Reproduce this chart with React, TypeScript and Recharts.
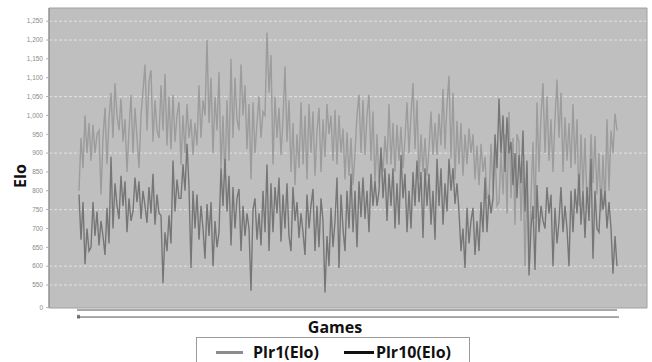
import React from 'react';
import { LineChart, Line, XAxis, YAxis, CartesianGrid, Legend, ReferenceLine, ReferenceArea } from 'recharts';

// Elo values, left to right (one value every ~2 px of the original)
const plr1Elo = [
  800, 940, 860, 1000, 900, 980, 880, 975, 900, 950, 960, 790, 940, 1020, 870, 990,
  1060, 940, 1085, 1000, 960, 1045, 930, 990, 850, 960, 1055, 900, 1020, 940, 860, 1000, 1065,
  1135, 960, 1090, 1120, 930, 1040, 960, 940, 1080, 960, 1110, 920, 1050, 910, 1055, 930, 1000,
  1035, 870, 1000, 900, 1030, 940, 990, 895, 980, 920, 1080, 940, 1040, 1000, 1200, 980,
  1100, 900, 1050, 960, 1115, 860, 1000, 830, 1040, 880, 1150, 940, 1100, 990, 960, 1135, 1000,
  1080, 910, 1030, 830, 1035, 900, 980, 1050, 940, 1010, 1000, 1220, 1060, 1160, 870, 1050, 940,
  1020, 895, 990, 1130, 930, 1040, 850, 980, 815, 950, 860, 1035, 870, 1000, 830, 1030, 900,
  1010, 840, 960, 1020, 850, 990, 890, 1030, 950, 1000, 880, 1015, 870, 1000, 900, 965, 830,
  955, 840, 940, 815, 900, 1000, 1055, 900, 1040, 895, 1000, 1055, 880, 1010, 815, 950, 820, 900,
  850, 945, 870, 1030, 870, 980, 850, 975, 880, 970, 860, 940, 1035, 900, 1000, 1085, 910, 1040,
  830, 950, 850, 940, 840, 910, 1010, 895, 980, 895, 1005, 920, 1070, 910, 1030, 1105, 885, 1060,
  830, 985, 870, 980, 840, 950, 870, 965, 900,
  950, 830, 920, 815, 925, 850, 890, 780, 780, 925, 800, 920, 760, 770, 900, 790, 950, 740,
  1010, 780, 940, 710, 950, 930, 720, 880, 600, 840, 620, 780, 930, 725, 1035, 850, 1000, 1085, 900,
  1050, 880, 990, 850, 990, 1095, 940, 1060, 850, 995, 880, 980, 860, 1030, 870, 990, 760, 950, 800,
  940, 770, 780, 950, 820, 945, 790, 900, 745, 895, 760, 990, 800, 960, 900, 1005, 960,
];

const plr10Elo = [
  790, 670, 770, 605, 700, 640, 650, 770, 680, 745, 655, 720, 680, 630, 755, 660,
  890, 700, 820, 760, 725, 840, 760, 825, 690, 780, 720, 745, 835, 770, 825, 725, 800, 760,
  715, 810, 740, 845, 710, 790, 740, 735, 555, 690, 640, 735, 660, 880, 745, 830, 780,
  780, 870, 800, 925, 810, 595, 800, 700, 790, 670, 760, 700, 620, 765, 680, 770, 600, 720, 650,
  690, 860, 760, 885, 745, 840, 655, 810, 700, 780, 805, 640, 760, 680, 740, 700, 535, 750,
  780, 670, 740, 655, 800, 690, 870, 640, 820, 690, 810, 740,
  835, 665, 790, 700, 820, 680, 640, 810, 720, 770, 675, 740, 690, 630, 790, 700, 760,
  805, 640, 760, 650, 780, 720, 530, 680, 600, 755, 650, 720, 835, 595, 790, 700,
  640, 800, 700, 845, 690, 800, 650, 825, 730, 835, 725, 800, 690, 845, 760, 825, 760, 800,
  915, 780, 860, 720, 845, 760, 860, 700, 820, 710, 895, 780, 845, 690, 800, 700, 850, 760,
  880, 770, 850, 675, 860, 760, 845, 710, 800, 670, 885, 760, 860, 710, 820, 745, 885, 800,
  860, 765, 820, 745, 640, 700, 595, 755, 660, 720,
  755, 630, 720, 640, 770, 690, 835, 690, 790, 740, 780, 950, 860, 1045, 900, 1000,
  850, 995, 900, 930, 815, 900, 780, 895, 820, 960, 745, 880, 575, 700, 760, 590,
  815, 690, 760, 720, 700, 810, 740, 790, 600, 755, 660, 720, 810, 690, 760, 700, 600, 800,
  690, 805, 740, 845, 710, 800, 675, 810, 720, 885, 620, 800, 700, 690, 805, 750,
  800, 700, 770, 700, 580, 680, 600,
];

const seriesNames = ['Plr1(Elo)', 'Plr10(Elo)'];
const yTickValues = [490, 550, 600, 650, 700, 750, 800, 850, 900, 950, 1000, 1050, 1100, 1150, 1200, 1250];
const yTickLabels = ['0', '550', '600', '650', '700', '750', '800', '850', '900', '950', '1,000', '1,050', '1,100', '1,150', '1,200', '1,250'];
const gridValues = [550, 600, 750, 900, 1050, 1200, 1250];

const data = plr1Elo.map((v, i) => ({ game: i, plr1: v, plr10: plr10Elo[i] }));
const lastGame = data.length - 1;

const lineColors = ['#9c9c9c', '#767676'];
const legendColors = ['#8c8c8c', '#111111'];

const renderLegend = (props: any) => {
  const payload = props.payload || [];
  return (
    <div
      style={{
        boxSizing: 'border-box',
        width: 274,
        height: 30,
        border: '1px solid #9a9a9a',
        background: '#fff',
        display: 'flex',
        alignItems: 'center',
        paddingLeft: 19,
        fontFamily: '"Open Sans", sans-serif',
        fontWeight: 700,
        fontSize: 16,
        color: '#111',
      }}
    >
      {payload.map((entry: any, i: number) => (
        <div key={i} style={{ display: 'flex', alignItems: 'center', marginLeft: i === 0 ? 0 : 25 }}>
          <span
            style={{
              display: 'inline-block',
              width: i === 0 ? 27 : 30,
              height: 3,
              background: legendColors[i],
              marginRight: i === 0 ? 10 : 2,
            }}
          />
          <span>{entry.value}</span>
        </div>
      ))}
    </div>
  );
};

export default function App() {
  return (
    <div style={{ position: 'absolute', left: 0, top: 0, background: '#fff' }}>
      <LineChart width={652} height={362} data={data} margin={{ top: 8, right: 5, bottom: 24, left: 0 }}>
        <CartesianGrid
          vertical={false}
          fill="#bfbfbf"
          stroke="#e2e2e2"
          strokeDasharray="3 2"
          horizontalValues={gridValues}
        />
        <XAxis
          type="number"
          dataKey="game"
          domain={[-15, lastGame + 15]}
          allowDataOverflow
          tick={false}
          tickLine={false}
          axisLine={false}
          height={30}
          label={{
            value: 'Games',
            position: 'insideBottom',
            offset: 5,
            dx: -13,
            style: { fontFamily: '"Open Sans", sans-serif', fontWeight: 700, fontSize: 16, fill: '#111' },
          }}
        />
        <YAxis
          type="number"
          domain={[489, 1285]}
          allowDataOverflow
          ticks={yTickValues}
          interval={0}
          width={49}
          tickSize={3}
          tickMargin={3}
          tickFormatter={(v: number) => yTickLabels[yTickValues.indexOf(v)]}
          tick={{ fontSize: 6.5, fill: '#8a8a8a', fontFamily: '"Liberation Sans", sans-serif' }}
          tickLine={{ stroke: '#b0b0b0' }}
          axisLine={{ stroke: '#8a8a8a' }}
          label={{
            value: 'Elo',
            angle: -90,
            position: 'center',
            dx: -4,
            dy: 18,
            style: { fontFamily: '"Open Sans", sans-serif', fontWeight: 700, fontSize: 16, fill: '#111' },
          }}
        />
        <ReferenceArea
          x1={-15}
          x2={lastGame + 15}
          y1={489}
          y2={1285}
          fill="none"
          stroke="#a0a0a0"
          ifOverflow="visible"
        />
        <Line
          type="linear"
          dataKey="plr1"
          name={seriesNames[0]}
          stroke={lineColors[0]}
          strokeWidth={1.4}
          dot={false}
          isAnimationActive={false}
        />
        <Line
          type="linear"
          dataKey="plr10"
          name={seriesNames[1]}
          stroke={lineColors[1]}
          strokeWidth={1.4}
          dot={false}
          isAnimationActive={false}
        />
        <ReferenceLine
          segment={[{ x: -1, y: 483.7 }, { x: lastGame, y: 483.7 }]}
          stroke="#a8a8a8"
          strokeWidth={2}
          ifOverflow="visible"
        />
        <ReferenceLine
          segment={[{ x: -1, y: 465 }, { x: lastGame + 1, y: 465 }]}
          stroke="#555"
          strokeWidth={1}
          ifOverflow="visible"
        />
        <ReferenceArea x1={-1} x2={0.5} y1={461} y2={471} fill="#111" stroke="none" ifOverflow="visible" />
        <Legend
          layout="horizontal"
          verticalAlign="middle"
          align="center"
          content={renderLegend}
          wrapperStyle={{ left: 196, top: 337, width: 274, height: 30 }}
        />
      </LineChart>
    </div>
  );
}
